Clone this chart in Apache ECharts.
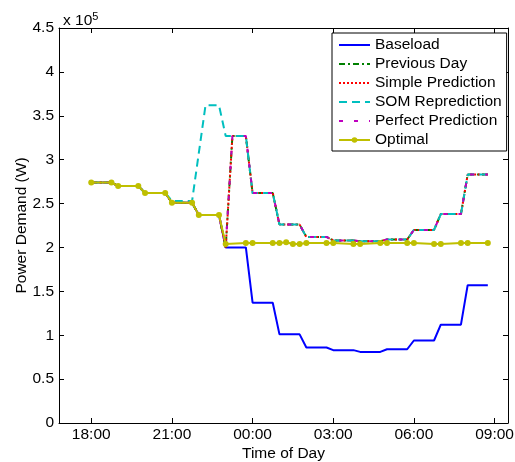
<!DOCTYPE html>
<html>
<head>
<meta charset="utf-8">
<script src="https://cdn.jsdelivr.net/npm/echarts@6/dist/echarts.min.js"></script>
<style>
html,body{margin:0;padding:0;background:#fff;}
#c{width:515px;height:462px;}
</style>
</head>
<body>
<div id="c"></div>
<script>
// Times in hours since midnight of the first day (24 = 00:00 next day)
const xTickValues = [18, 21, 24, 27, 30, 33];
const xTickLabels = ["18:00", "21:00", "00:00", "03:00", "06:00", "09:00"];

const baseTimes = [18,18.75,19,19.75,20,20.75,21,21.75,22,22.75,23,23.75,24,24.75,25,25.75,26,26.75,27,27.75,28,28.75,29,29.75,30,30.75,31,31.75,32,32.75];
const baseload  = [274000,274000,270000,270000,262000,262000,251000,251000,237000,237000,200000,200000,137000,137000,101000,101000,86000,86000,83000,83000,81000,81000,84000,84000,94000,94000,112000,112000,157000,157000];

const predTimes = [18,18.75,19,19.75,20,20.75,21,21.75,22,22.75,23,23.25,23.75,24,24.75,25,25.75,26,26.75,27,27.75,28,28.75,29,29.75,30,30.75,31,31.75,32,32.75];
const previousDay      = [274000,274000,270000,270000,262000,262000,251000,251000,237000,237000,200000,327000,327000,262000,262000,226000,226000,212000,212000,208000,208000,207000,207000,209000,209000,220000,220000,238000,238000,283000,283000];
const simplePrediction = [274000,274000,270000,270000,262000,262000,251000,251000,237000,237000,200000,327000,327000,262000,262000,226000,226000,212000,212000,208000,208000,207000,207000,209000,209000,220000,220000,238000,238000,283000,283000];
const perfectPrediction= [274000,274000,270000,270000,262000,262000,251000,251000,237000,237000,200000,327000,327000,262000,262000,226000,226000,212000,212000,208000,208000,207000,207000,209000,209000,220000,220000,238000,238000,283000,283000];

const somTimes = [18,18.75,19,19.75,20,20.75,21,21.75,22.25,22.75,23,23.75,24,24.75,25,25.75,26,26.75,27,27.75,28,28.75,29,29.75,30,30.75,31,31.75,32,32.75];
const somReprediction = [274000,274000,270000,270000,262000,262000,253000,253000,362000,362000,327000,327000,262000,262000,226000,226000,212000,212000,208000,208000,207000,207000,209000,209000,220000,220000,238000,238000,283000,283000];

const optTimes = [18,18.75,19,19.75,20,20.75,21,21.75,22,22.75,23,23.75,24,24.75,25,25.25,25.5,25.75,26,26.75,27,27.75,28,28.75,29,29.75,30,30.75,31,31.75,32,32.75];
const optimal  = [274000,274000,270000,270000,262000,262000,251000,251000,237000,237000,204000,205000,205000,205000,205000,206000,204000,204000,205000,205000,205000,204000,204000,205000,205000,205000,205000,204000,204000,205000,205000,205000];

const seriesNames = ['Baseload', 'Previous Day', 'Simple Prediction', 'SOM Reprediction', 'Perfect Prediction', 'Optimal'];

const pair = (t, v) => t.map((x, i) => [x, v[i]]);
const font = "Liberation Sans, Arial, Helvetica, sans-serif";
const fs = 15.5;

const chart = echarts.init(document.getElementById('c'), null, {renderer: 'canvas'});

function mkSeries(name, t, v, color, type, extra) {
  return Object.assign({
    name: name, type: 'line', data: pair(t, v),
    symbol: 'none', animation: false,
    lineStyle: {color: color, width: 2, type: type},
    itemStyle: {color: color}
  }, extra || {});
}

const axisCommon = {
  axisLine: {show: true, onZero: false, lineStyle: {color: '#000', width: 1}},
  splitLine: {show: false}
};

chart.setOption({
  backgroundColor: '#fff',
  animation: false,
  grid: {left: 59, right: 7, top: 28, bottom: 39, containLabel: false, outerBoundsMode: 'none'},
  title: {
    text: 'x 10{s|5}', left: 58, top: 6,
    textStyle: {fontFamily: font, fontSize: fs, fontWeight: 'normal', color: '#000',
      rich: {s: {fontSize: 11, verticalAlign: 'top', padding: [0,0,9,0], fontFamily: font, color: '#000'}}}
  },
  legend: {
    orient: 'vertical', left: 332, top: 33,
    backgroundColor: '#fff', borderColor: '#000', borderWidth: 1,
    padding: [4, 5, 3, 6], itemGap: 3, itemWidth: 31, itemHeight: 7,
    textStyle: {fontFamily: font, fontSize: fs, color: '#000'},
    data: seriesNames.map(n => ({name: n, itemStyle: {opacity: n === 'Optimal' ? 1 : 0}}))
  },
  xAxis: [
    Object.assign({
      type: 'value', min: 16.8, max: 33.5, position: 'bottom',
      name: 'Time of Day', nameLocation: 'middle', nameGap: 23, nameMoveOverlap: false,
      nameTextStyle: {fontFamily: font, fontSize: fs, color: '#000'},
      axisTick: {show: true, inside: true, length: 5, lineStyle: {color: '#000'}, customValues: xTickValues},
      axisLabel: {show: true, margin: 4, fontFamily: font, fontSize: fs, color: '#000', customValues: xTickValues,
        formatter: v => xTickLabels[xTickValues.indexOf(v)]}
    }, axisCommon),
    Object.assign({
      type: 'value', min: 16.8, max: 33.5, position: 'top',
      axisTick: {show: true, inside: true, length: 5, lineStyle: {color: '#000'}, customValues: xTickValues},
      axisLabel: {show: false}
    }, axisCommon)
  ],
  yAxis: [
    Object.assign({
      type: 'value', min: 0, max: 450000, interval: 50000, position: 'left',
      name: 'Power Demand (W)', nameLocation: 'middle', nameGap: 29, nameRotate: 90, nameMoveOverlap: false,
      nameTextStyle: {fontFamily: font, fontSize: fs, color: '#000'},
      axisTick: {show: true, inside: true, length: 5, lineStyle: {color: '#000'}},
      axisLabel: {show: true, margin: 5, fontFamily: font, fontSize: fs, color: '#000',
        formatter: v => String(Math.round(v / 10000) / 10)}
    }, axisCommon),
    Object.assign({
      type: 'value', min: 0, max: 450000, interval: 50000, position: 'right',
      axisTick: {show: true, inside: true, length: 5, lineStyle: {color: '#000'}},
      axisLabel: {show: false}
    }, axisCommon)
  ],
  series: [
    mkSeries(seriesNames[0], baseTimes, baseload, '#0000FF', 'solid'),
    mkSeries(seriesNames[1], predTimes, previousDay, '#008000', [6,3,2,3]),
    mkSeries(seriesNames[2], predTimes, simplePrediction, '#FF0000', [2,2]),
    mkSeries(seriesNames[3], somTimes, somReprediction, '#00BFBF', [8,5]),
    mkSeries(seriesNames[4], predTimes, perfectPrediction, '#BF00BF', [4,11]),
    mkSeries(seriesNames[5], optTimes, optimal, '#BFBF00', 'solid', {symbol: 'circle', symbolSize: 6, showSymbol: true})
  ]
});
</script>
</body>
</html>
